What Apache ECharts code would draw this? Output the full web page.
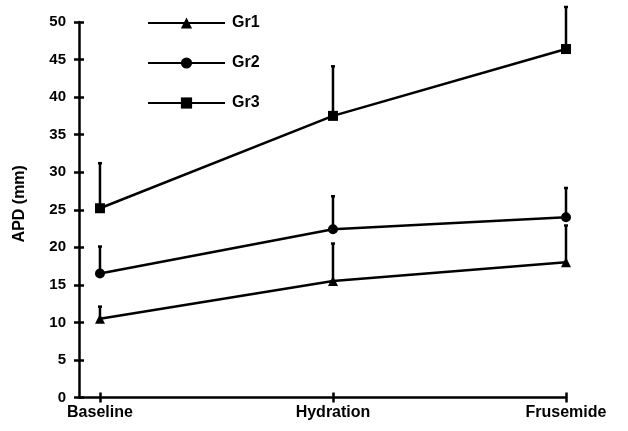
<!DOCTYPE html>
<html><head><meta charset="utf-8">
<script src="https://cdn.jsdelivr.net/npm/echarts@6/dist/echarts.min.js"></script>
<style>html,body{margin:0;padding:0;background:#fff}#c{width:628px;height:431px}</style>
</head><body><div id="c"></div>
<script>
const categories = ['Baseline', 'Hydration', 'Frusemide'];
const gr1 = [10.5, 15.5, 18.0];
const gr2 = [16.5, 22.4, 24.0];
const gr3 = [25.2, 37.5, 46.4];
const gr1Err = [1.6, 5.0, 4.9];
const gr2Err = [3.6, 4.4, 3.9];
const gr3Err = [6.0, 6.6, 5.6];
const yTicks = [0, 5, 10, 15, 20, 25, 30, 35, 40, 45, 50];

const font = 'Liberation Sans, Arial, sans-serif';
const toPts = arr => arr.map((v, i) => [i, v]);
const toErr = (m, e) => m.map((v, i) => [i, v, v + e[i]]);

function errSeries(m, e) {
  return {
    type: 'custom', silent: true, z: 1,
    data: toErr(m, e),
    renderItem: function (params, api) {
      const p0 = api.coord([api.value(0), api.value(1)]);
      const p1 = api.coord([api.value(0), api.value(2)]);
      return {
        type: 'group', children: [
          { type: 'line', shape: { x1: p0[0], y1: p0[1], x2: p1[0], y2: p1[1] }, style: { stroke: '#000', lineWidth: 2.5 } },
          { type: 'line', shape: { x1: p1[0] - 2, y1: p1[1], x2: p1[0] + 2, y2: p1[1] }, style: { stroke: '#000', lineWidth: 2.5 } }
        ]
      };
    }
  };
}
function lineSeries(name, m, sym, size) {
  return {
    name: name, type: 'line', data: toPts(m), symbol: sym, symbolSize: size, z: 3,
    lineStyle: { color: '#000', width: 2.5 }, itemStyle: { color: '#000' }
  };
}

const chart = echarts.init(document.getElementById('c'), null, { renderer: 'canvas' });
chart.setOption({
  animation: false,
  backgroundColor: '#fff',
  grid: { left: 79, right: 62, top: 22, bottom: 33.5 },
  legend: {
    orient: 'vertical', left: 142, top: 10, itemWidth: 77, itemHeight: 14, itemGap: 24,
    textStyle: { color: '#000', fontFamily: font, fontWeight: 'bold', fontSize: 16, padding: [0, 0, 0, 2] },
    data: ['Gr1', 'Gr2', 'Gr3']
  },
  xAxis: [{
    type: 'value', min: -0.09, max: 2,
    axisLine: { lineStyle: { color: '#000', width: 2.5 } },
    axisTick: { customValues: [0, 1, 2], length: 5, lineStyle: { color: '#000', width: 2.5 } },
    axisLabel: { customValues: [0, 1, 2], formatter: v => categories[Math.round(v)], color: '#000', fontFamily: font, fontWeight: 'bold', fontSize: 16, margin: 7 },
    splitLine: { show: false }
  }, {
    type: 'value', min: -0.09, max: 2, position: 'bottom',
    axisLine: { show: false },
    axisTick: { customValues: [0, 1, 2], inside: true, length: 5, lineStyle: { color: '#000', width: 2.5 } },
    axisLabel: { show: false }, splitLine: { show: false }
  }],
  yAxis: [{
    type: 'value', min: 0, max: 50, interval: 5,
    name: 'APD (mm)', nameLocation: 'middle', nameGap: 51, nameRotate: 90,
    nameTextStyle: { color: '#000', fontFamily: font, fontWeight: 'bold', fontSize: 16, padding: [0, 0, 0, 12] },
    axisLine: { show: true, onZero: false, lineStyle: { color: '#000', width: 2.5 } },
    axisTick: { show: true, length: 5, lineStyle: { color: '#000', width: 2.5 } },
    axisLabel: { customValues: yTicks, color: '#000', fontFamily: font, fontWeight: 'bold', fontSize: 15, margin: 13 },
    splitLine: { show: false }
  }, {
    type: 'value', min: 0, max: 50, interval: 5, position: 'left',
    axisLine: { show: false, onZero: false },
    axisTick: { show: true, inside: true, length: 5, lineStyle: { color: '#000', width: 2.5 } },
    axisLabel: { show: false }, splitLine: { show: false }
  }],
  series: [
    errSeries(gr1, gr1Err), errSeries(gr2, gr2Err), errSeries(gr3, gr3Err),
    lineSeries('Gr1', gr1, 'triangle', 10),
    lineSeries('Gr2', gr2, 'circle', 10),
    lineSeries('Gr3', gr3, 'rect', 10)
  ]
});
</script></body></html>
